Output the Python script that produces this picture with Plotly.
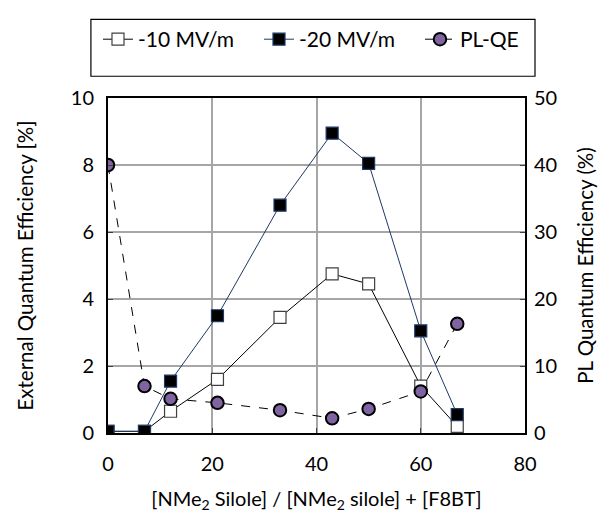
import plotly.graph_objects as go

x_eqe = [0, 7, 12, 21, 33, 43, 50, 60, 67]
eqe_10 = [0.05, 0.05, 0.65, 1.6, 3.45, 4.75, 4.45, 1.4, 0.2]
eqe_20 = [0.05, 0.05, 1.55, 3.5, 6.8, 8.95, 8.05, 3.05, 0.55]
x_pl = [0, 7, 12, 21, 33, 43, 50, 60, 67]
plqe = [40, 7.0, 5.1, 4.5, 3.4, 2.2, 3.6, 6.2, 16.3]

FONT = "Lato"
fig = go.Figure()
fig.add_trace(go.Scatter(
    x=x_eqe, y=eqe_10, name="-10 MV/m", mode="lines+markers",
    line=dict(color="black", width=1),
    marker=dict(symbol="square", size=12, color="white", line=dict(color="#404040", width=1.2)),
))
fig.add_trace(go.Scatter(
    x=x_eqe, y=eqe_20, name="-20 MV/m", mode="lines+markers",
    line=dict(color="#1f3864", width=1),
    marker=dict(symbol="square", size=12, color="black", line=dict(color="#1f3864", width=1.2)),
))
fig.add_trace(go.Scatter(
    x=x_pl, y=plqe, name="PL-QE", mode="lines+markers", yaxis="y2",
    line=dict(color="black", width=1, dash="dash"),
    marker=dict(symbol="circle", size=12.5, color="#8064a2", line=dict(color="black", width=2)),
))

fig.update_layout(
    width=608, height=515,
    margin=dict(l=100, r=91, t=89, b=90),
    paper_bgcolor="white", plot_bgcolor="white",
    font=dict(family=FONT, size=20, color="black"),
    showlegend=True,
    legend=dict(
        orientation="h", x=-0.024, xanchor="left", y=1.232, yanchor="top",
        xref="paper", yref="paper",
        borderwidth=0, bgcolor="rgba(0,0,0,0)",
        font=dict(size=21), entrywidth=116, entrywidthmode="pixels",
        tracegroupgap=0,
    ),
    shapes=[dict(
        type="rect", xref="paper", yref="paper",
        x0=-0.041, x1=1.024, y0=1.065, y1=1.235,
        line=dict(color="black", width=1.2), fillcolor="rgba(0,0,0,0)",
    )],
    xaxis=dict(
        range=[0, 80], dtick=20, showgrid=True, gridcolor="#a6a6a6", gridwidth=1.5,
        showline=True, linecolor="black", linewidth=2, mirror=True,
        ticks="inside", ticklen=5, tickcolor="#404040",
        zeroline=False, ticklabelstandoff=12,
        title=dict(text="[NMe<sub>2</sub> Silole] / [NMe<sub>2</sub> silole] + [F8BT]", font=dict(size=20), standoff=18),
    ),
    yaxis=dict(
        range=[0, 10], dtick=2, showgrid=True, gridcolor="#a6a6a6", gridwidth=1.5,
        showline=True, linecolor="black", linewidth=2, mirror=True,
        ticks="inside", ticklen=5, tickcolor="#404040",
        zeroline=False, ticklabelstandoff=8,
        title=dict(text="External Quantum Efficiency [%]", font=dict(size=20.5), standoff=32),
    ),
    yaxis2=dict(
        range=[0, 50], dtick=10, overlaying="y", side="right", showgrid=False,
        ticks="inside", ticklen=5, tickcolor="#404040",
        zeroline=False, ticklabelstandoff=8,
        title=dict(text="PL Quantum Efficiency (%)", font=dict(size=20.5), standoff=22),
    ),
)
fig.write_html("out.html")
